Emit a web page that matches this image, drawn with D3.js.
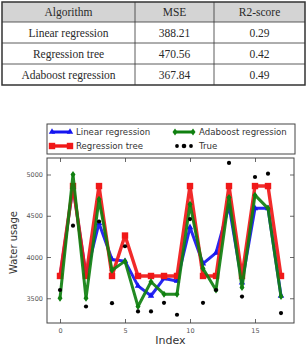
<!DOCTYPE html>
<html>
<head>
<meta charset="utf-8">
<script src="https://cdn.jsdelivr.net/npm/d3@7"></script>
<style>
  html, body { margin: 0; padding: 0; background: #fff; }
  svg { display: block; }
  .tbltxt { font-family: 'Liberation Serif', 'Times New Roman', serif; }
</style>
</head>
<body>
<div id="chart"></div>
<script>
// ---- Table data ----
const tableHeader = ["Algorithm", "MSE", "R2-score"];
const algorithms = ["Linear regression", "Regression tree", "Adaboost regression"];
const mseValues = ["388.21", "470.56", "367.84"];
const r2Values = ["0.29", "0.42", "0.49"];

// ---- Chart data ----
const indexValues = d3.range(18);
const linearPred = [3760, 4850, 3780, 4410, 3970, 3950, 3650, 3530, 3740, 3710, 4360, 3920, 4050, 4620, 3690, 4590, 4590, 3530];
const treePred   = [3770, 4860, 3770, 4860, 3770, 4260, 3770, 3770, 3770, 3770, 4860, 3770, 3770, 4860, 3770, 4860, 4860, 3770];
const adaPred    = [3500, 5000, 3500, 4700, 3840, 3950, 3400, 3700, 3550, 3550, 4640, 3860, 3600, 4720, 3630, 4750, 4590, 3520];
const trueValues = [3600, 4380, 3400, 4430, 3440, 4130, 3340, 3340, 3445, 3300, 4460, 3445, 3600, 5140, 3520, 4970, 5010, 3320];
const xTicks = [0, 5, 10, 15];
const yTicks = [3500, 4000, 4500, 5000];
const legendLabels = ["Linear regression", "Regression tree", "Adaboost regression", "True"];

(function () {
const W = 307, H = 347;
const svg = d3.select("#chart").append("svg").attr("width", W).attr("height", H);

// ---- Table ----
const colX = [2, 135, 214, 305];
const rowY = [2, 22, 43, 64, 85];
const tbl = svg.append("g");
tbl.append("rect").attr("x", colX[0]).attr("y", rowY[0])
  .attr("width", colX[3] - colX[0]).attr("height", rowY[1] - rowY[0])
  .attr("fill", "#d4d4d4");
const rows = [tableHeader].concat(algorithms.map((a, i) => [a, mseValues[i], r2Values[i]]));
rows.forEach((r, ri) => {
  r.forEach((t, ci) => {
    tbl.append("text")
      .attr("class", "tbltxt")
      .attr("x", (colX[ci] + colX[ci + 1]) / 2)
      .attr("y", (rowY[ri] + rowY[ri + 1]) / 2 + 4)
      .attr("text-anchor", "middle")
      .attr("font-size", 11.5)
      .attr("fill", "#2a2a2a")
      .text(t);
  });
});
rowY.slice(1, -1).forEach(yy => {
  tbl.append("line").attr("x1", colX[0]).attr("x2", colX[3]).attr("y1", yy).attr("y2", yy)
    .attr("stroke", "#333").attr("stroke-width", 0.8);
});
colX.slice(1, -1).forEach(xx => {
  tbl.append("line").attr("x1", xx).attr("x2", xx).attr("y1", rowY[0]).attr("y2", rowY[4])
    .attr("stroke", "#333").attr("stroke-width", 0.8);
});
tbl.append("rect").attr("x", colX[0]).attr("y", rowY[0])
  .attr("width", colX[3] - colX[0]).attr("height", rowY[4] - rowY[0])
  .attr("fill", "none").attr("stroke", "#333").attr("stroke-width", 1.5);

// ---- Plot ----
const pLeft = 47, pRight = 294, pTop = 158, pBottom = 323;
const x = d3.scaleLinear().domain([-1, 18]).range([pLeft, pRight]);
const y = d3.scaleLinear().domain([3200, 5200]).range([pBottom, pTop]);

const tickColor = "#555";
function styleAxis(g, showLabels) {
  g.select(".domain").remove();
  g.selectAll(".tick line").attr("stroke", "#444").attr("stroke-width", 0.8);
  g.selectAll(".tick text")
    .attr("font-family", "DejaVu Sans, sans-serif")
    .attr("font-size", 6.5)
    .attr("fill", tickColor);
  if (!showLabels) g.selectAll(".tick text").remove();
}
svg.append("g").attr("transform", `translate(0,${pBottom})`)
  .call(d3.axisBottom(x).tickValues(xTicks).tickSize(-4).tickPadding(5).tickFormat(d3.format("d")))
  .call(g => styleAxis(g, true));
svg.append("g").attr("transform", `translate(0,${pTop})`)
  .call(d3.axisTop(x).tickValues(xTicks).tickSize(-4))
  .call(g => styleAxis(g, false));
svg.append("g").attr("transform", `translate(${pLeft},0)`)
  .call(d3.axisLeft(y).tickValues(yTicks).tickSize(-4).tickPadding(4).tickFormat(d3.format("d")))
  .call(g => styleAxis(g, true));
svg.append("g").attr("transform", `translate(${pRight},0)`)
  .call(d3.axisRight(y).tickValues(yTicks).tickSize(-4))
  .call(g => styleAxis(g, false));

svg.append("clipPath").attr("id", "plotclip").append("rect")
  .attr("x", pLeft).attr("y", pTop).attr("width", pRight - pLeft).attr("height", pBottom - pTop);
const plot = svg.append("g").attr("clip-path", "url(#plotclip)");

const line = d3.line().x((d, i) => x(indexValues[i])).y(d => y(d));

const series = [
  { data: linearPred, color: "#1515f0", width: 3, marker: "tri" },
  { data: treePred, color: "#f01818", width: 3.4, marker: "sq" },
  { data: adaPred, color: "#108010", width: 3, marker: "dia" }
];

function drawMarker(g, type, cx, cy, color) {
  if (type === "sq") {
    g.append("rect").attr("x", cx - 3.2).attr("y", cy - 3.2).attr("width", 6.4).attr("height", 6.4)
      .attr("fill", color);
  } else if (type === "tri") {
    g.append("path").attr("d", d3.symbol().type(d3.symbolTriangle).size(18)())
      .attr("transform", `translate(${cx},${cy})`).attr("fill", color);
  } else if (type === "dia") {
    g.append("path").attr("d", `M${cx},${cy - 3.5}L${cx + 2.5},${cy}L${cx},${cy + 3.5}L${cx - 2.5},${cy}Z`)
      .attr("fill", color);
  }
}

series.forEach(s => {
  plot.append("path").datum(s.data).attr("d", line)
    .attr("fill", "none").attr("stroke", s.color).attr("stroke-width", s.width)
    .attr("stroke-linejoin", "round").attr("opacity", 0.92);
  s.data.forEach((v, i) => drawMarker(plot, s.marker, x(indexValues[i]), y(v), s.color));
});

plot.selectAll("circle.true").data(trueValues).enter().append("circle")
  .attr("class", "true")
  .attr("cx", (d, i) => x(indexValues[i])).attr("cy", d => y(d)).attr("r", 2.1)
  .attr("fill", "#000");

svg.append("rect").attr("x", pLeft).attr("y", pTop).attr("width", pRight - pLeft).attr("height", pBottom - pTop)
  .attr("fill", "none").attr("stroke", "#444").attr("stroke-width", 1);

// ---- Axis titles ----
svg.append("text").attr("x", (pLeft + pRight) / 2).attr("y", 344)
  .attr("text-anchor", "middle").attr("font-family", "DejaVu Sans, sans-serif")
  .attr("font-size", 11).attr("fill", "#333").text("Index");
svg.append("text").attr("transform", `translate(17,${(pTop + pBottom) / 2 + 2}) rotate(-90)`)
  .attr("text-anchor", "middle").attr("font-family", "DejaVu Sans, sans-serif")
  .attr("font-size", 10).attr("fill", "#333").text("Water usage");

// ---- Legend ----
const leg = svg.append("g");
leg.append("rect").attr("x", 47).attr("y", 124).attr("width", 248).attr("height", 30)
  .attr("fill", "#fff").attr("stroke", "#444").attr("stroke-width", 1);
const legPos = [
  { x: 52, y: 132 }, { x: 52, y: 146 }, { x: 175, y: 132 }, { x: 175, y: 146 }
];
const legSeries = [series[0], series[1], series[2], null];
legendLabels.forEach((lab, i) => {
  const p = legPos[i];
  const s = legSeries[i];
  if (s) {
    leg.append("line").attr("x1", p.x).attr("x2", p.x + 18).attr("y1", p.y).attr("y2", p.y)
      .attr("stroke", s.color).attr("stroke-width", s.width);
    drawMarker(leg, s.marker, p.x, p.y, s.color);
    drawMarker(leg, s.marker, p.x + 18, p.y, s.color);
  } else {
    [0, 7, 14].forEach((dx, k) => {
      leg.append("circle").attr("cx", p.x + 2 + dx).attr("cy", p.y).attr("r", k === 1 ? 2.3 : 1.9).attr("fill", "#000");
    });
  }
  leg.append("text").attr("x", p.x + 24).attr("y", p.y + 3.2)
    .attr("font-family", "DejaVu Sans, sans-serif").attr("font-size", 8.6)
    .attr("fill", "#333").text(lab);
});
})();
</script>
</body>
</html>
